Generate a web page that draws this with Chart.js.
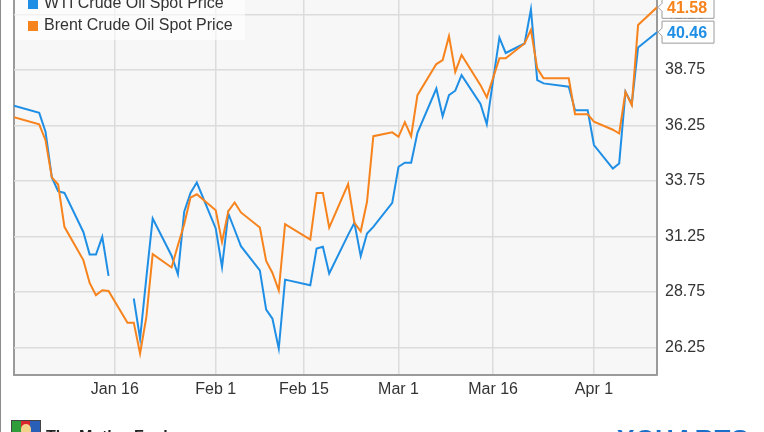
<!DOCTYPE html>
<html>
<head>
<meta charset="utf-8">
<title>WTI vs Brent</title>
<script src="https://cdn.jsdelivr.net/npm/chart.js@4.4.1/dist/chart.umd.min.js"></script>
<style>
html,body{margin:0;padding:0;background:#fff;}
body{width:764px;height:432px;overflow:hidden;position:relative;font-family:"Liberation Sans",Arial,sans-serif;}
#c{position:absolute;left:0;top:0;}
#frame{position:absolute;left:0;top:0;width:1px;height:432px;background:#8c8c8c;}
.legend{position:absolute;left:15px;top:0;width:230px;height:40px;background:rgba(255,255,255,.6);}
.item{position:absolute;left:29px;font-size:16px;line-height:16px;color:#333;white-space:nowrap;}
.sw{position:absolute;left:-16px;top:4px;width:10px;height:10px;}
.logo{position:absolute;left:11px;top:420px;width:30px;height:16px;border:1px solid #444;box-sizing:border-box;
  background:linear-gradient(90deg,#2e9d3a 0 33%,#d8262e 33% 66%,#2a5fb8 66%);}
.logo i{position:absolute;left:9px;top:3px;width:10px;height:12px;border-radius:5px;background:#f3d28a;}
.fool{position:absolute;left:46px;top:428px;font-size:16px;font-weight:bold;color:#222;}
.ych{position:absolute;left:617px;top:424px;font-size:26px;font-weight:bold;color:#1a6fc9;letter-spacing:1px;}
</style>
</head>
<body>
<canvas id="c" width="764" height="432"></canvas>
<div id="frame"></div>
<div class="legend">
  <div class="item" style="top:-5px"><span class="sw" style="background:#1f8fe5"></span>WTI Crude Oil Spot Price</div>
  <div class="item" style="top:17px"><span class="sw" style="background:#f7831d"></span>Brent Crude Oil Spot Price</div>
</div>
<div class="logo"><i></i></div>
<div class="fool">The Motley Fool</div>
<div class="ych">YCHARTS</div>
<script>
var dates = ['2015-12-31','2016-01-04','2016-01-05','2016-01-06','2016-01-07','2016-01-08',
  '2016-01-11','2016-01-12','2016-01-13','2016-01-14','2016-01-15','2016-01-18','2016-01-19',
  '2016-01-20','2016-01-21','2016-01-22','2016-01-25','2016-01-26','2016-01-27','2016-01-28',
  '2016-01-29','2016-02-01','2016-02-02','2016-02-03','2016-02-04','2016-02-05','2016-02-08',
  '2016-02-09','2016-02-10','2016-02-11','2016-02-12','2016-02-16','2016-02-17','2016-02-18',
  '2016-02-19','2016-02-22','2016-02-23','2016-02-24','2016-02-25','2016-02-26','2016-02-29',
  '2016-03-01','2016-03-02','2016-03-03','2016-03-04','2016-03-07','2016-03-08','2016-03-09',
  '2016-03-10','2016-03-11','2016-03-14','2016-03-15','2016-03-16','2016-03-17','2016-03-18',
  '2016-03-21','2016-03-22','2016-03-23','2016-03-24','2016-03-28','2016-03-29','2016-03-30',
  '2016-03-31','2016-04-01','2016-04-04','2016-04-05','2016-04-06','2016-04-07','2016-04-08',
  '2016-04-11'];

var wti = [37.14,36.82,35.97,33.91,33.29,33.21,
  31.45,30.43,30.43,31.23,29.47,null,28.45,
  26.64,29.40,32.06,30.38,29.54,32.36,33.21,
  33.68,31.61,29.87,32.28,31.55,30.81,29.72,
  27.95,27.54,26.19,29.30,29.05,30.70,30.78,
  29.58,31.32,31.86,30.36,31.38,31.68,32.76,
  34.39,34.57,34.57,35.92,37.92,36.67,37.62,
  37.82,38.52,37.22,36.31,38.30,40.21,39.52,
  39.95,41.49,38.30,38.15,38.00,36.94,36.94,
  36.94,35.37,34.31,34.54,37.77,37.22,39.77,
  40.46];

var brent = [36.62,36.30,35.59,33.91,33.59,31.68,
  30.18,29.15,28.60,28.82,28.79,27.36,27.36,
  25.97,27.62,30.45,29.85,30.85,31.80,33.00,
  33.15,32.43,31.00,32.39,32.78,32.33,31.65,
  30.14,29.60,28.81,31.80,31.11,33.21,33.21,
  31.65,33.61,31.86,31.48,32.81,35.77,35.94,
  35.74,36.40,35.77,37.62,39.02,39.20,40.28,
  38.67,39.43,38.07,37.52,38.40,39.28,39.28,
  39.95,40.56,38.83,38.38,38.38,36.76,36.76,
  36.76,36.42,36.06,35.89,37.77,37.17,40.78,
  41.58];

var tickDates  = ['2016-01-16','2016-02-01','2016-02-15','2016-03-01','2016-03-16','2016-04-01'];
var tickLabels = ['Jan 16','Feb 1','Feb 15','Mar 1','Mar 16','Apr 1'];
var yTicks = [26.25,28.75,31.25,33.75,36.25,38.75,41.25];

var BLUE = '#1f8fe5', ORANGE = '#f7831d';

function dayOf(s){
  var p = s.split('-');
  return (Date.UTC(+p[0], +p[1]-1, +p[2]) - Date.UTC(2016,0,1)) / 86400000;
}

function points(vals){
  var out = [];
  for(var i=0;i<dates.length;i++){ out.push({x: dayOf(dates[i]), y: vals[i]}); }
  return out;
}

var tickDays = tickDates.map(dayOf);

var plotBg = {
  id:'plotBg',
  beforeDraw:function(c){
    var a = c.chartArea, ctx = c.ctx;
    ctx.save();
    ctx.fillStyle = '#f7f7f7';
    ctx.fillRect(a.left, a.top, a.right-a.left, a.bottom-a.top);
    ctx.strokeStyle = '#9a9a9a'; ctx.lineWidth = 2;
    ctx.beginPath(); ctx.moveTo(a.left, a.top); ctx.lineTo(a.left, a.bottom); ctx.stroke();
    ctx.restore();
  }
};

var endTags = {
  id:'endTags',
  afterDraw:function(c){
    var ctx = c.ctx, a = c.chartArea, ys = c.scales.y;
    c.data.datasets.forEach(function(ds){
      var last = ds.data[ds.data.length-1];
      var y = ys.getPixelForValue(last.y);
      var l = a.right + 1, r = a.right + 57, h = 11;
      ctx.save();
      ctx.beginPath();
      ctx.moveTo(l, y); ctx.lineTo(l+4, y-4); ctx.lineTo(l+4, y-h); ctx.lineTo(r, y-h);
      ctx.lineTo(r, y+h); ctx.lineTo(l+4, y+h); ctx.lineTo(l+4, y+4); ctx.closePath();
      ctx.fillStyle = '#fff'; ctx.fill();
      ctx.strokeStyle = '#9a9a9a'; ctx.lineWidth = 1; ctx.stroke();
      ctx.fillStyle = ds.borderColor;
      ctx.font = 'bold 16px "Liberation Sans", Arial, sans-serif';
      ctx.textBaseline = 'middle';
      ctx.fillText(last.y.toFixed(2), l+9, y+1);
      ctx.restore();
    });
  }
};

Chart.defaults.font.family = '"Liberation Sans", Arial, sans-serif';

new Chart(document.getElementById('c').getContext('2d'), {
  type:'line',
  data:{
    datasets:[
      {label:'WTI Crude Oil Spot Price', data:points(wti), borderColor:BLUE, spanGaps:false, order:1},
      {label:'Brent Crude Oil Spot Price', data:points(brent), borderColor:ORANGE, spanGaps:true, order:0}
    ]
  },
  options:{
    responsive:false,
    animation:false,
    layout:{padding:{left:14, top:0, right:0, bottom:0}},
    elements:{point:{radius:0}, line:{borderWidth:2, tension:0}},
    plugins:{legend:{display:false}, tooltip:{enabled:false}},
    scales:{
      x:{
        type:'linear',
        min: dayOf(dates[0]), max: dayOf(dates[dates.length-1]),
        afterBuildTicks:function(s){ s.ticks = tickDays.map(function(v){ return {value:v}; }); },
        afterFit:function(s){ s.height = 57; s.paddingLeft = 0; s.paddingRight = 0; },
        grid:{color:'#dcdcdc', lineWidth:1.5, drawTicks:false},
        border:{color:'#9a9a9a', width:2},
        ticks:{
          padding:5, color:'#333', font:{size:16}, maxRotation:0, autoSkip:false,
          callback:function(v){ var i = tickDays.indexOf(v); return i < 0 ? '' : tickLabels[i]; }
        }
      },
      y:{
        position:'right',
        min:25, max:41.91,
        afterBuildTicks:function(s){ s.ticks = yTicks.map(function(v){ return {value:v}; }); },
        afterFit:function(s){ s.width = 107; s.paddingTop = 0; s.paddingBottom = 0; },
        grid:{color:'#dcdcdc', lineWidth:1.5, drawTicks:false},
        border:{color:'#9a9a9a', width:2},
        ticks:{ padding:8, color:'#333', font:{size:16}, callback:function(v){ return v.toFixed(2); } }
      }
    }
  },
  plugins:[plotBg, endTags]
});
</script>
</body>
</html>
